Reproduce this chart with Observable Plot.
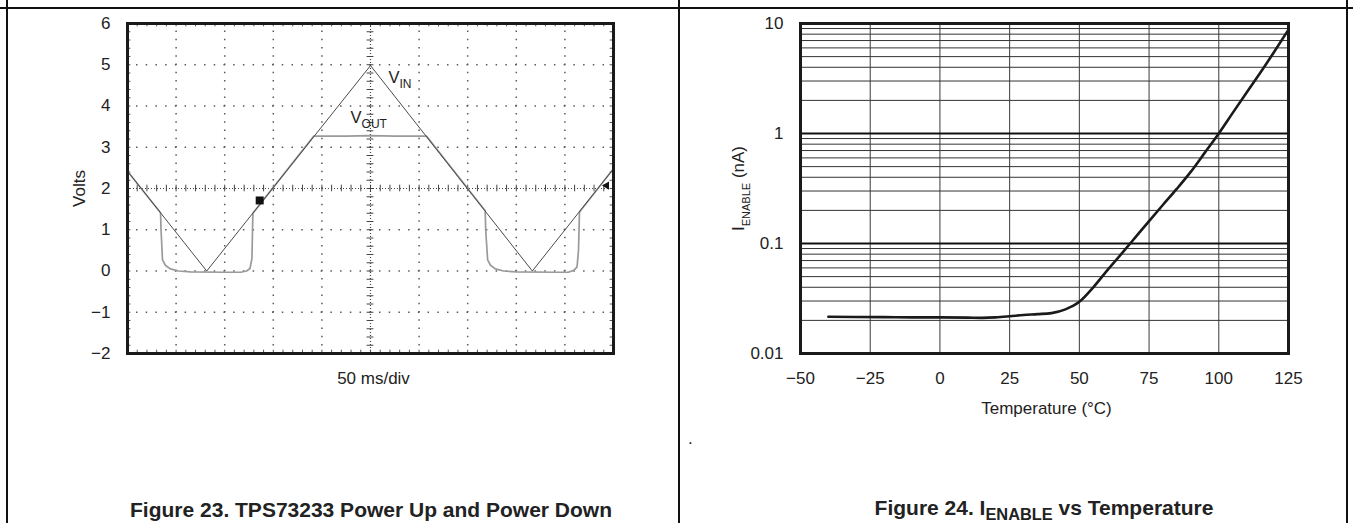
<!DOCTYPE html>
<html><head><meta charset="utf-8">
<script src="https://cdn.jsdelivr.net/npm/d3@7"></script>
<script src="https://cdn.jsdelivr.net/npm/@observablehq/plot@0.6"></script>
<style>
html,body{margin:0;padding:0;background:#fff;}
body{width:1353px;height:523px;overflow:hidden;position:relative;font-family:"Liberation Sans",Arial,Helvetica,sans-serif;color:#222;}
.ln{position:absolute;background:#111;}
.title{position:absolute;font-weight:bold;font-size:21px;line-height:21px;white-space:nowrap;transform:translateX(-50%);}
.title sub{font-size:0.78em;vertical-align:baseline;position:relative;top:0.28em;}
#left,#right{position:absolute;top:0;}
#dot{position:absolute;left:688px;top:430px;font-size:17px;line-height:17px;}
</style></head><body>
<div class="ln" style="left:0;top:7px;width:1353px;height:2px"></div>
<div class="ln" style="left:6px;top:0;width:2px;height:523px"></div>
<div class="ln" style="left:678px;top:0;width:2px;height:523px"></div>
<div class="ln" style="left:1346px;top:0;width:2px;height:523px"></div>
<div id="left"></div>
<div id="right"></div>
<div id="dot">.</div>
<div class="title" style="left:371px;top:499px">Figure 23. TPS73233 Power Up and Power Down</div>
<div class="title" style="left:1044px;top:497px">Figure 24. I<sub>ENABLE</sub> vs Temperature</div>
<script>
// ---------- Figure 23 data (time in divisions, 50 ms/div; volts) ----------
const vinT = [0, 1.63, 5.0, 8.33, 10];
const vinV = [2.42, 0, 4.98, 0, 2.48];
const voutT = [0, 0.68, 0.69, 0.72, 0.78, 0.88, 1.05, 1.3, 2.0, 2.33, 2.45, 2.52, 2.56, 2.58, 3.834, 4.5, 5.0, 5.5, 6.152, 7.36, 7.37, 7.41, 7.47, 7.57, 7.74, 8.0, 8.8, 9.07, 9.19, 9.25, 9.28, 9.30, 10];
const voutV = [2.42, 1.41, 1.0, 0.27, 0.14, 0.05, 0.0, -0.02, -0.03, -0.03, 0.0, 0.06, 0.3, 1.40, 3.27, 3.27, 3.28, 3.27, 3.27, 1.46, 1.0, 0.27, 0.14, 0.05, 0.0, -0.02, -0.03, -0.03, 0.02, 0.1, 0.5, 1.43, 2.48];
const voltTicks = [-2, -1, 0, 1, 2, 3, 4, 5, 6];
const divLines = [1, 2, 3, 4, 6, 7, 8, 9];
const voltLines = [-1, 0, 1, 3, 4, 5];
const traceLabels = [{t: 5.37, v: 4.68, s: "V_{IN}"}, {t: 4.59, v: 3.72, s: "V_{OUT}"}];
const squareMarker = [{t: 2.72, v: 1.71}];
const trigMarker = [{t: 9.86, v: 2.07}];

// ---------- Figure 24 data ----------
const tempC = [-40, -30, -20, -10, 0, 10, 15, 20, 25, 30, 35, 40, 45, 50, 55, 60, 65, 70, 75, 80, 85, 90, 95, 100, 105, 110, 115, 120, 125];
const iEnable = [0.0216, 0.0215, 0.0214, 0.0213, 0.0213, 0.0212, 0.0211, 0.0213, 0.0218, 0.0224, 0.0228, 0.0233, 0.0252, 0.0295, 0.040, 0.057, 0.080, 0.113, 0.16, 0.225, 0.315, 0.45, 0.67, 1.0, 1.54, 2.36, 3.6, 5.6, 8.8];
const tempTicks = [-50, -25, 0, 25, 50, 75, 100, 125];
const currentTicks = [0.01, 0.1, 1, 10];

const FONT = '"Liberation Sans", Arial, Helvetica, sans-serif';
const minus = d => d < 0 ? "\u2212" + Math.abs(d) : String(d);

function applySubs(svg, subPx, shiftPx, mainPx) {
  const ns = "http://www.w3.org/2000/svg";
  svg.querySelectorAll("text").forEach(t => {
    const s = t.textContent;
    const m = s.match(/^(.*?)_\{(.*?)\}(.*)$/);
    if (!m) return;
    while (t.firstChild) t.removeChild(t.firstChild);
    const a = document.createElementNS(ns, "tspan"); a.textContent = m[1];
    const b = document.createElementNS(ns, "tspan"); b.textContent = m[2];
    b.setAttribute("font-size", subPx); b.setAttribute("dy", shiftPx);
    t.append(a, b);
    if (m[3]) {
      const c = document.createElementNS(ns, "tspan"); c.textContent = m[3];
      c.setAttribute("dy", -shiftPx); c.setAttribute("font-size", mainPx);
      t.append(c);
    }
  });
}

// ---------- Left chart ----------
const vin = vinT.map((t, i) => ({t, v: vinV[i]}));
const vout = voutT.map((t, i) => ({t, v: voutV[i]}));
const fine = d3.range(0, 10.0001, 0.2);
const fineV = d3.range(-2, 6.0001, 0.2);

const left = Plot.plot({
  width: 680, height: 400,
  marginLeft: 127, marginRight: 67, marginTop: 23, marginBottom: 47,
  style: {fontFamily: FONT, fontSize: "17px", color: "#222", background: "transparent"},
  x: {domain: [0, 10], axis: null},
  y: {domain: [-2, 6], ticks: voltTicks, tickSize: 0, tickPadding: 17, tickFormat: minus, label: null},
  marks: [
    Plot.ruleX(divLines, {stroke: "#5a5a5a", strokeWidth: 1.5, strokeDasharray: "1.5 6.75", strokeDashoffset: 0.75}),
    Plot.ruleY(voltLines, {stroke: "#5a5a5a", strokeWidth: 1.5, strokeDasharray: "1.5 8.22", strokeDashoffset: 0.75}),
    Plot.ruleX([5], {stroke: "#444", strokeWidth: 1.2, strokeDasharray: "1 2"}),
    Plot.ruleY([2], {stroke: "#444", strokeWidth: 1.2, strokeDasharray: "1 2"}),
    Plot.ruleX(fine, {x: d => d, y1: 1.92, y2: 2.08, stroke: "#444", strokeWidth: 1}),
    Plot.ruleY(fineV, {y: d => d, x1: 4.93, x2: 5.07, stroke: "#444", strokeWidth: 1}),
    Plot.ruleX(fine, {x: d => d, y1: -2, y2: -1.92, stroke: "#555", strokeWidth: 1}),
    Plot.ruleX(fine, {x: d => d, y1: 5.92, y2: 6, stroke: "#555", strokeWidth: 1}),
    Plot.ruleY(fineV, {y: d => d, x1: 0, x2: 0.07, stroke: "#555", strokeWidth: 1}),
    Plot.ruleY(fineV, {y: d => d, x1: 9.93, x2: 10, stroke: "#555", strokeWidth: 1}),
    Plot.line(vout, {x: "t", y: "v", stroke: "#9a9a9a", strokeWidth: 1.7}),
    Plot.line(vin, {x: "t", y: "v", stroke: "#4a4a4a", strokeWidth: 1}),
    Plot.dot(squareMarker, {x: "t", y: "v", symbol: "square", r: 4.5, fill: "#111"}),
    Plot.dot(trigMarker, {x: "t", y: "v", symbol: "triangle", r: 3, fill: "#111", rotate: -90}),
    Plot.text(traceLabels, {x: "t", y: "v", text: "s", textAnchor: "start", fontSize: 16.5, fill: "#222"}),
    Plot.text(["Volts"], {text: d => d, frameAnchor: "left", textAnchor: "middle", lineAnchor: "middle", rotate: -90, dx: -48, fontSize: 17, fill: "#222"}),
    Plot.text(["50 ms/div"], {text: d => d, frameAnchor: "bottom", textAnchor: "middle", lineAnchor: "middle", dy: 25, dx: 3, fontSize: 17, fill: "#222"}),
    Plot.frame({stroke: "#1a1a1a", strokeWidth: 3})
  ]
});
applySubs(left, 12, 5, 16.5);
document.getElementById("left").append(left);
document.getElementById("left").style.left = "0px";

// ---------- Right chart ----------
const ien = tempC.map((T, i) => ({T, I: iEnable[i]}));
const minor = [0.01, 0.1, 1].flatMap(b => d3.range(2, 10).map(k => k * b));
const right = Plot.plot({
  width: 673, height: 430,
  marginLeft: 120, marginRight: 65, marginTop: 23, marginBottom: 77,
  style: {fontFamily: FONT, fontSize: "17px", color: "#222", background: "transparent"},
  x: {domain: [-50, 125], ticks: tempTicks, tickSize: 0, tickPadding: 18, tickFormat: minus, label: null},
  y: {type: "log", domain: [0.01, 10], ticks: currentTicks, tickSize: 0, tickPadding: 17, tickFormat: d => String(d), label: null},
  marks: [
    Plot.ruleY(minor, {stroke: "#333", strokeWidth: 1}),
    Plot.ruleX(tempTicks.slice(1, -1), {stroke: "#3a3a3a", strokeWidth: 1}),
    Plot.ruleY([0.1, 1], {stroke: "#111", strokeWidth: 2.2}),
    Plot.line(ien, {x: "T", y: "I", stroke: "#1a1a1a", strokeWidth: 2.6, curve: "monotone-x"}),
    Plot.text(["I_{ENABLE} (nA)"], {text: d => d, frameAnchor: "left", textAnchor: "middle", lineAnchor: "middle", rotate: -90, dx: -62, fontSize: 17, fill: "#222"}),
    Plot.text(["Temperature (\u00B0C)"], {text: d => d, frameAnchor: "bottom", textAnchor: "middle", lineAnchor: "middle", dy: 55, dx: 2, fontSize: 17, fill: "#222"}),
    Plot.frame({stroke: "#1a1a1a", strokeWidth: 3})
  ]
});
applySubs(right, 11, 6, 17);
document.getElementById("right").append(right);
document.getElementById("right").style.left = "680px";
</script>
</body></html>
